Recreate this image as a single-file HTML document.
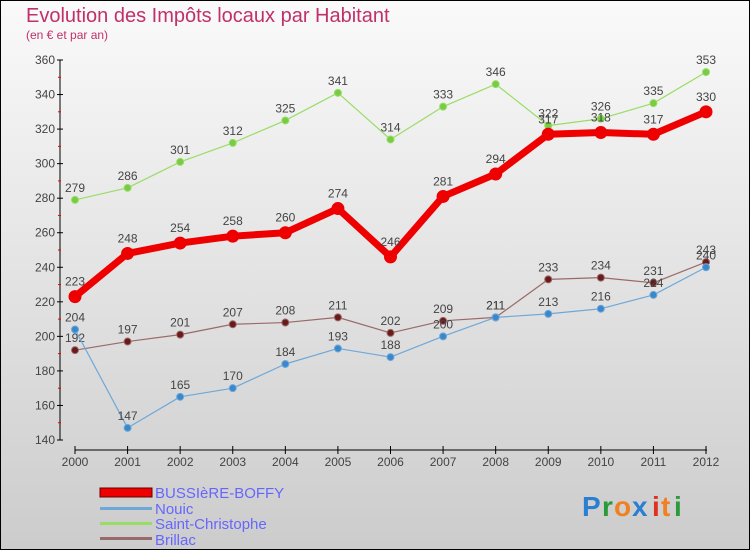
<!DOCTYPE html>
<html><head><meta charset="utf-8"><style>
body{margin:0;width:750px;height:550px;overflow:hidden;font-family:"Liberation Sans",sans-serif}
svg text{font-family:"Liberation Sans",sans-serif}
</style></head><body>
<svg width="750" height="550" xmlns="http://www.w3.org/2000/svg">
<defs><linearGradient id="bg" x1="0" y1="0" x2="0" y2="1"><stop offset="0" stop-color="#fafafa"/><stop offset="1" stop-color="#cccccc"/></linearGradient></defs>
<rect x="0.5" y="0.5" width="749" height="549" fill="url(#bg)" stroke="#000"/>
<text x="26" y="22" font-size="20" fill="#c0306a">Evolution des Impôts locaux par Habitant</text>
<text x="26" y="39" font-size="12" fill="#c0306a">(en € et par an)</text>
<g id="axes"></g>
<g id="series"></g>
<g>
<rect x="100" y="488" width="52" height="9" fill="#e00" stroke="#600"/>
<text x="155" y="498" font-size="15" fill="#6666ff">BUSSIèRE-BOFFY</text>
<rect x="100" y="507" width="52" height="3" fill="#6fa8d8"/>
<text x="155" y="514" font-size="15" fill="#6666ff">Nouic</text>
<rect x="100" y="522" width="52" height="3" fill="#99dd66"/>
<text x="155" y="529" font-size="15" fill="#6666ff">Saint-Christophe</text>
<rect x="100" y="537" width="52" height="3" fill="#9a6a6a"/>
<text x="155" y="545" font-size="15" fill="#6666ff">Brillac</text>
</g>
<g font-size="28" font-weight="bold">
<text x="582" y="516" fill="#2a7fd0">P</text><text x="602" y="516" fill="#2a9a3a">r</text><text x="614" y="516" fill="#f08020">o</text><text x="632" y="516" fill="#2a7fd0">x</text><text x="652" y="516" fill="#e03020">i</text><text x="661" y="516" fill="#f08020">t</text><text x="674" y="516" fill="#2a9a3a">i</text>
</g>
</svg>
<script>
const years=[2000,2001,2002,2003,2004,2005,2006,2007,2008,2009,2010,2011,2012];
const yTicks=[140,160,180,200,220,240,260,280,300,320,340,360];
const bussiere=[223,248,254,258,260,274,246,281,294,317,318,317,330];
const nouic=[204,147,165,170,184,193,188,200,211,213,216,224,240];
const saintChristophe=[279,286,301,312,325,341,314,333,346,322,326,335,353];
const brillac=[192,197,201,207,208,211,202,209,211,233,234,231,243];
const NS="http://www.w3.org/2000/svg";
function X(i){return 75+i*(706-75)/12;}
function Y(v){return 440-(v-140)*(380/220);}
function mk(t,a,p){const e=document.createElementNS(NS,t);for(const k in a)e.setAttribute(k,a[k]);p.appendChild(e);return e;}
const ax=document.getElementById('axes');
mk('line',{x1:60,y1:60,x2:60,y2:440,stroke:'#000','stroke-width':1},ax);
mk('line',{x1:75,y1:450,x2:707,y2:450,stroke:'#000','stroke-width':1},ax);
yTicks.forEach((v,i)=>{
 mk('line',{x1:57,y1:Y(v),x2:63,y2:Y(v),stroke:'#000'},ax);
 if(i<yTicks.length-1) mk('line',{x1:58,y1:Y(v+10),x2:61,y2:Y(v+10),stroke:'#e00'},ax);
 const t=mk('text',{x:55,y:Y(v)+4,'font-size':12,fill:'#444','text-anchor':'end'},ax);
 
 
 t.textContent=v;
});
years.forEach((y,i)=>{
 mk('line',{x1:X(i),y1:446,x2:X(i),y2:454,stroke:'#000'},ax);
 const t=mk('text',{x:X(i),y:466,'font-size':12,fill:'#444','text-anchor':'middle'},ax);
 
 
 t.textContent=y;
});
const sg=document.getElementById('series');
function draw(data,name,color,dot,w,r,dy){
 const g=mk('g',{},sg);
 
 
 mk('polyline',{points:data.map((v,i)=>X(i)+','+Y(v)).join(' '),fill:'none',stroke:color,'stroke-width':w,'stroke-linejoin':'round'},g);
 data.forEach((v,i)=>{
  const c=mk('circle',{cx:X(i),cy:Y(v),r:r,fill:dot,stroke:color},g);
  
  
  const t=mk('text',{x:X(i),y:Y(v)+dy,'font-size':12,fill:'#444','text-anchor':'middle'},g);
  
  
  t.textContent=v;
 });
}
draw(saintChristophe,'saint-christophe','#99dd66','#77cc44',1.2,3.5,-8);
draw(brillac,'brillac','#9a6a6a','#6a1a1a',1.2,3.5,-8);
draw(nouic,'nouic','#6fa8d8','#3a88cc',1.2,3.5,-8);
draw(bussiere,'bussiere','#ee0000','#ee0000',7,6,-11);
</script>
</body></html>
